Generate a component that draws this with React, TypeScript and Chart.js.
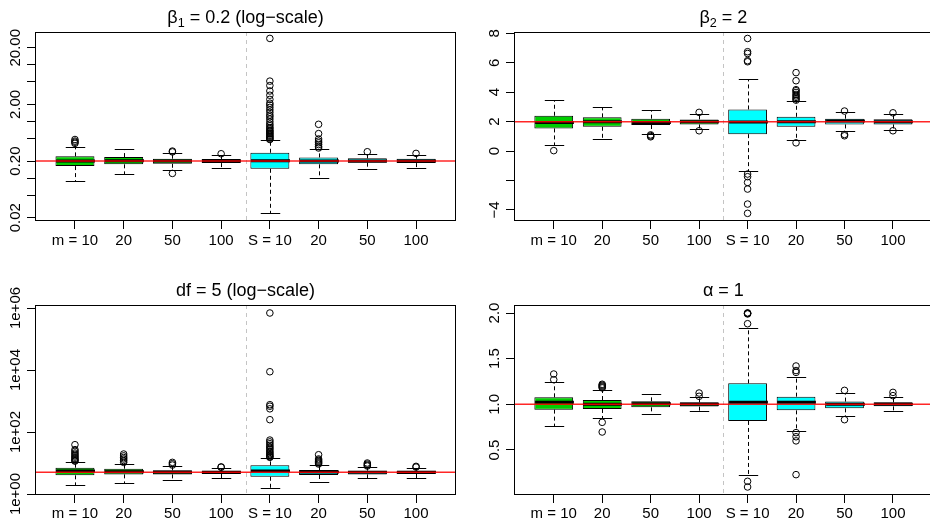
import React, { useEffect, useRef } from "react";
import { Chart, registerables } from "chart.js";

Chart.register(...registerables);

// ---------- data ----------
const categories = ["m = 10", "20", "50", "100", "S = 10", "20", "50", "100"];

// beta1 = 0.2 (log-scale)
const beta1True = 0.2;
const beta1Q1 = [0.163, 0.175, 0.179, 0.184, 0.146, 0.175, 0.187, 0.184];
const beta1Q3 = [0.242, 0.235, 0.22, 0.217, 0.28, 0.232, 0.223, 0.22];
const beta1Med = [0.2, 0.202, 0.2, 0.2, 0.202, 0.2, 0.2, 0.2];
const beta1Lo = [0.0888, 0.119, 0.137, 0.149, 0.024, 0.101, 0.145, 0.149];
const beta1Hi = [0.357, 0.33, 0.277, 0.252, 0.463, 0.326, 0.269, 0.252];
const beta1Out = [
  [0.41, 0.43, 0.45, 0.48],
  [],
  [0.121, 0.29, 0.3],
  [0.269],
  [29.2, 5.15, 4.3, 3.45, 2.9, 2.45, 2.1, 1.95, 1.77, 1.6, 1.45, 1.3, 1.21, 1.1, 0.99, 0.9, 0.84, 0.78, 0.75, 0.7, 0.68, 0.65, 0.62, 0.6, 0.57, 0.55, 0.53, 0.51, 0.49, 0.48],
  [0.89, 0.61, 0.49, 0.45, 0.42, 0.39, 0.36, 0.34],
  [0.292],
  [0.273],
];
const beta1Ticks = [0.02, 0.05, 0.1, 0.2, 0.5, 1, 2, 5, 10, 20];
const beta1TickLabels = ["0.02", "", "", "0.20", "", "", "2.00", "", "", "20.00"];

// beta2 = 2
const beta2True = 2;
const beta2Q1 = [1.54, 1.65, 1.77, 1.81, 1.15, 1.65, 1.81, 1.81];
const beta2Q3 = [2.4, 2.29, 2.2, 2.15, 2.83, 2.33, 2.2, 2.17];
const beta2Med = [1.95, 1.99, 1.95, 1.99, 1.97, 1.99, 2.04, 2.0];
const beta2Lo = [0.39, 0.84, 1.18, 1.47, -1.35, 0.75, 1.38, 1.45];
const beta2Hi = [3.46, 2.97, 2.76, 2.54, 4.9, 3.4, 2.67, 2.51];
const beta2Out = [
  [0.03],
  [],
  [1.1, 1.03, 0.97],
  [2.63, 1.38],
  [7.65, 6.75, 6.63, 6.14, 6.07, -1.56, -1.74, -2.13, -2.58, -3.6, -4.23],
  [5.33, 4.78, 4.17, 4.1, 3.98, 3.85, 3.75, 3.65, 3.55, 3.46, 0.56],
  [2.72, 1.13, 1.04],
  [2.6, 1.38],
];
const beta2Ticks = [-4, -2, 0, 2, 4, 6, 8];
const beta2TickLabels = ["\u22124", "", "0", "2", "4", "6", "8"];

// df = 5 (log-scale)
const dfTrue = 5;
const dfQ1 = [4.0, 4.3, 4.3, 4.42, 3.6, 4.1, 4.3, 4.42];
const dfQ3 = [7.06, 6.55, 5.8, 5.66, 8.4, 5.95, 5.66, 5.66];
const dfMed = [5.52, 5.24, 5.0, 5.0, 5.5, 5.12, 5.0, 5.0];
const dfLo = [1.95, 2.26, 2.76, 3.36, 1.56, 2.44, 3.28, 3.28];
const dfHi = [11.0, 9.5, 8.0, 6.9, 14.8, 8.8, 7.4, 6.73];
const dfOut = [
  [39, 27, 24, 21, 19, 17, 15.5, 14, 13, 12, 11.5],
  [19.5, 17, 15, 13.5, 12, 10.5],
  [10.5, 9.5, 8.6],
  [7.5, 7.3],
  [690000, 8800, 760, 680, 560, 250, 55, 48, 42, 37, 33, 30, 27, 24, 22, 20, 18.5, 17, 16, 15.2],
  [18.5, 13.5, 12.5, 11.5, 10.7, 10, 9.3],
  [10, 9.2, 8.5, 8],
  [7.8, 7.4],
];
const dfTicks = [1, 1e2, 1e4, 1e6];
const dfTickLabels = ["1e+00", "1e+02", "1e+04", "1e+06"];

// alpha = 1
const alphaTrue = 1;
const alphaQ1 = [0.942, 0.949, 0.967, 0.975, 0.818, 0.934, 0.956, 0.978];
const alphaQ3 = [1.077, 1.047, 1.033, 1.022, 1.23, 1.084, 1.03, 1.022];
const alphaMed = [1.022, 1.0, 1.007, 1.0, 1.022, 1.022, 1.0, 1.0];
const alphaLo = [0.766, 0.854, 0.898, 0.923, 0.226, 0.704, 0.869, 0.923];
const alphaHi = [1.24, 1.16, 1.117, 1.077, 1.836, 1.296, 1.124, 1.077];
const alphaOut = [
  [1.332, 1.27],
  [1.22, 1.21, 1.2, 1.19, 1.18, 0.803, 0.697],
  [],
  [1.124, 1.088],
  [2.0, 2.0, 1.995, 1.99, 1.883, 0.157, 0.095],
  [1.42, 1.37, 1.35, 0.69, 0.645, 0.6, 0.23],
  [1.153, 0.832],
  [1.131, 1.095],
];
const alphaTicks = [0.5, 1, 1.5, 2];
const alphaTickLabels = ["0.5", "1.0", "1.5", "2.0"];

// ---------- styling / layout ----------
const FONT = "'Liberation Sans', Arial, Helvetica, sans-serif";
const GREEN = "#00cd00";
const CYAN = "#00ffff";

type Seg = { t: string; sub?: boolean };
type Spec = {
  left: number; top: number; w: number; h: number;
  plot: { l: number; t: number; r: number; b: number };
  xPad: number;
  yType: "linear" | "logarithmic";
  yMin: number; yMax: number;
  ticks: number[]; tickLabels: string[];
  q1: number[]; q3: number[]; med: number[]; lo: number[]; hi: number[]; out: number[][];
  truth: number;
  title: Seg[];
};

const specs: Spec[] = [
  {
    left: 0, top: 0, w: 465, h: 263, plot: { l: 35, t: 32, r: 456, b: 221 }, xPad: 3,
    yType: "logarithmic", yMin: 0.0175, yMax: 37.9,
    ticks: beta1Ticks, tickLabels: beta1TickLabels,
    q1: beta1Q1, q3: beta1Q3, med: beta1Med, lo: beta1Lo, hi: beta1Hi, out: beta1Out,
    truth: beta1True,
    title: [{ t: "\u03b2" }, { t: "1", sub: true }, { t: " = 0.2 (log\u2212scale)" }],
  },
  {
    left: 465, top: 0, w: 472, h: 263, plot: { l: 49, t: 32, r: 470, b: 221 }, xPad: 3,
    yType: "linear", yMin: -4.75, yMax: 8.09,
    ticks: beta2Ticks, tickLabels: beta2TickLabels,
    q1: beta2Q1, q3: beta2Q3, med: beta2Med, lo: beta2Lo, hi: beta2Hi, out: beta2Out,
    truth: beta2True,
    title: [{ t: "\u03b2" }, { t: "2", sub: true }, { t: " = 2" }],
  },
  {
    left: 0, top: 263, w: 465, h: 263, plot: { l: 35, t: 42, r: 456, b: 232 }, xPad: 2,
    yType: "logarithmic", yMin: 0.93, yMax: 1.25e6,
    ticks: dfTicks, tickLabels: dfTickLabels,
    q1: dfQ1, q3: dfQ3, med: dfMed, lo: dfLo, hi: dfHi, out: dfOut,
    truth: dfTrue,
    title: [{ t: "df = 5 (log\u2212scale)" }],
  },
  {
    left: 465, top: 263, w: 472, h: 263, plot: { l: 49, t: 42, r: 470, b: 232 }, xPad: 2,
    yType: "linear", yMin: 0.007, yMax: 2.088,
    ticks: alphaTicks, tickLabels: alphaTickLabels,
    q1: alphaQ1, q3: alphaQ3, med: alphaMed, lo: alphaLo, hi: alphaHi, out: alphaOut,
    truth: alphaTrue,
    title: [{ t: "\u03b1 = 1" }],
  },
];

function makePlugin(s: Spec) {
  return {
    id: "rBoxplot",
    afterDatasetsDraw(chart: any) {
      const { ctx, chartArea: ca } = chart;
      const xs = chart.scales.x;
      const ys = chart.scales.y;
      const bars = chart.getDatasetMeta(0).data as any[];
      ctx.save();
      ctx.strokeStyle = "#000";
      ctx.lineCap = "butt";
      for (let i = 0; i < categories.length; i++) {
        const cx = Math.round(xs.getPixelForValue(i + 1)) + 0.5;
        const hw = bars[i].width / 2;
        const yq1 = ys.getPixelForValue(s.q1[i]);
        const yq3 = ys.getPixelForValue(s.q3[i]);
        const ylo = Math.round(ys.getPixelForValue(s.lo[i])) + 0.5;
        const yhi = Math.round(ys.getPixelForValue(s.hi[i])) + 0.5;
        const ymed = ys.getPixelForValue(s.med[i]);
        ctx.lineWidth = 1;
        ctx.setLineDash([4, 3]);
        ctx.beginPath();
        ctx.moveTo(cx, yq3);
        ctx.lineTo(cx, yhi);
        ctx.moveTo(cx, yq1);
        ctx.lineTo(cx, ylo);
        ctx.stroke();
        ctx.setLineDash([]);
        ctx.beginPath();
        ctx.moveTo(cx - hw / 2, yhi);
        ctx.lineTo(cx + hw / 2, yhi);
        ctx.moveTo(cx - hw / 2, ylo);
        ctx.lineTo(cx + hw / 2, ylo);
        ctx.stroke();
        ctx.lineWidth = 3;
        ctx.beginPath();
        ctx.moveTo(cx - hw, ymed);
        ctx.lineTo(cx + hw, ymed);
        ctx.stroke();
      }
      // group separator
      const sx = Math.round(xs.getPixelForValue(categories.length / 2 + 0.5)) + 0.5;
      ctx.strokeStyle = "#c4c4c4";
      ctx.lineWidth = 1;
      ctx.setLineDash([4, 4]);
      ctx.beginPath();
      ctx.moveTo(sx, ca.top);
      ctx.lineTo(sx, ca.bottom);
      ctx.stroke();
      ctx.setLineDash([]);
      // true value
      const ty = ys.getPixelForValue(s.truth);
      ctx.strokeStyle = "rgba(255,0,0,0.85)";
      ctx.lineWidth = 1.5;
      ctx.beginPath();
      ctx.moveTo(ca.left, ty);
      ctx.lineTo(ca.right, ty);
      ctx.stroke();
      // frame
      ctx.strokeStyle = "#000";
      ctx.lineWidth = 1;
      ctx.strokeRect(ca.left + 0.5, ca.top + 0.5, ca.right - ca.left - 1, ca.bottom - ca.top - 1);
      ctx.restore();
    },
    afterDraw(chart: any) {
      const { ctx, chartArea: ca } = chart;
      const ys = chart.scales.y;
      ctx.save();
      ctx.fillStyle = "#000";
      // rotated y tick labels (R style)
      ctx.font = `15px ${FONT}`;
      ctx.textAlign = "center";
      ctx.textBaseline = "alphabetic";
      s.ticks.forEach((v, i) => {
        const lab = s.tickLabels[i];
        if (!lab) return;
        ctx.save();
        ctx.translate(ca.left - 15.5, ys.getPixelForValue(v));
        ctx.rotate(-Math.PI / 2);
        ctx.fillText(lab, 0, 0);
        ctx.restore();
      });
      // title with subscript
      const big = `18px ${FONT}`;
      const small = `12.6px ${FONT}`;
      ctx.textAlign = "left";
      let total = 0;
      const widths = s.title.map((seg) => {
        ctx.font = seg.sub ? small : big;
        const w = ctx.measureText(seg.t).width;
        total += w;
        return w;
      });
      let x = (ca.left + ca.right) / 2 - total / 2;
      const y = ca.top - 9.5;
      s.title.forEach((seg, i) => {
        ctx.font = seg.sub ? small : big;
        ctx.fillText(seg.t, x, seg.sub ? y + 4 : y);
        x += widths[i];
      });
      ctx.restore();
    },
  };
}

function Panel({ s }: { s: Spec }) {
  const ref = useRef<HTMLCanvasElement>(null);
  useEffect(() => {
    if (!ref.current) return;
    const chart = new Chart(ref.current, {
      type: "bar",
      data: {
        datasets: [
          {
            type: "bar",
            data: categories.map((_, i) => ({ x: i + 1, y: [s.q1[i], s.q3[i]] })) as any,
            backgroundColor: categories.map((_, i) => (i < categories.length / 2 ? GREEN : CYAN)),
            borderColor: "#000",
            borderWidth: 1,
            borderSkipped: false,
            barPercentage: 0.8,
            categoryPercentage: 1,
            xAxisID: "x",
            yAxisID: "y",
          } as any,
          {
            type: "scatter",
            data: s.out.flatMap((arr, i) => arr.map((v) => ({ x: i + 1, y: v }))),
            pointRadius: 3.3,
            pointHoverRadius: 3.3,
            pointBorderWidth: 1,
            pointBackgroundColor: "rgba(0,0,0,0)",
            pointBorderColor: "#000",
            xAxisID: "x",
            yAxisID: "y",
          } as any,
        ],
      },
      options: {
        responsive: false,
        animation: false,
        events: [],
        layout: { padding: { left: 0, top: s.plot.t, right: s.w - s.plot.r, bottom: 0 } },
        plugins: { legend: { display: false }, tooltip: { enabled: false }, title: { display: false } },
        scales: {
          x: {
            type: "linear",
            min: 0.18,
            max: 8.82,
            offset: false,
            grid: { display: true, drawOnChartArea: false, drawTicks: true, tickLength: 8, color: "#000", tickColor: "#000", offset: false },
            border: { display: false },
            ticks: {
              autoSkip: false,
              maxRotation: 0,
              minRotation: 0,
              padding: s.xPad,
              color: "#000",
              font: { family: FONT, size: 15 },
              callback: (_v: any, i: number) => categories[i] ?? "",
            },
            afterBuildTicks: (sc: any) => {
              sc.ticks = categories.map((_, i) => ({ value: i + 1 }));
            },
            afterFit: (sc: any) => {
              sc.height = s.h - s.plot.b;
            },
          } as any,
          y: {
            type: s.yType,
            min: s.yMin,
            max: s.yMax,
            beginAtZero: false,
            grid: { display: true, drawOnChartArea: false, drawTicks: true, tickLength: 8, color: "#000", tickColor: "#000" },
            border: { display: false },
            ticks: { display: false },
            afterBuildTicks: (sc: any) => {
              sc.ticks = s.ticks.map((v) => ({ value: v }));
            },
            afterFit: (sc: any) => {
              sc.width = s.plot.l;
            },
          } as any,
        },
      },
      plugins: [makePlugin(s)],
    });
    return () => chart.destroy();
  }, [s]);
  return (
    <canvas
      ref={ref}
      width={s.w}
      height={s.h}
      style={{ position: "absolute", left: s.left, top: s.top, width: s.w, height: s.h }}
    />
  );
}

export default function App() {
  return (
    <div
      style={{
        position: "fixed",
        left: 0,
        top: 0,
        width: 930,
        height: 526,
        overflow: "hidden",
        background: "#fff",
      }}
    >
      {specs.map((s, i) => (
        <Panel key={i} s={s} />
      ))}
    </div>
  );
}
